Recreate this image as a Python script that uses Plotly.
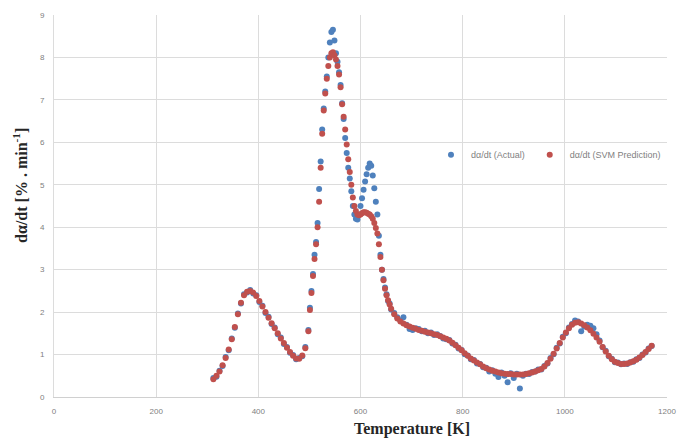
import plotly.graph_objects as go

temperature = [
    312, 318, 324, 330, 336, 342, 348, 354, 360, 366, 372, 378, 384, 390, 396, 402,
    408, 414, 420, 426, 432, 438, 444, 450, 456, 462, 468, 474, 480, 486, 492, 498,
    501, 504, 507, 510, 513, 516, 519, 522, 525, 528, 531, 534, 537, 540, 543, 546,
    549, 552, 555, 558, 561, 564, 567, 570, 573, 576, 579, 582, 585, 588, 591, 594,
    597, 600, 603, 606, 609, 612, 615, 618, 621, 624, 627, 630, 633, 636, 639, 642,
    645, 648, 651, 654, 657, 660,
    666, 672, 678, 684, 690, 696, 702, 708, 714, 720, 726, 732, 738, 744, 750, 756,
    762, 768, 774, 780, 786, 792, 798, 804, 810, 816, 822, 828, 834, 840, 846, 852,
    858, 864, 870, 876, 882, 888, 894, 900, 906, 912, 918, 924, 930, 936, 942, 948,
    954, 960, 966, 972, 978, 984, 990, 996, 1002, 1008, 1014, 1020, 1026, 1032, 1038,
    1044, 1050, 1056, 1062, 1068, 1074, 1080, 1086, 1092, 1098, 1104, 1110, 1116,
    1122, 1128, 1134, 1140, 1146, 1152, 1158, 1164, 1170,
]

rate_actual = [
    0.45, 0.48, 0.62, 0.73, 0.94, 1.10, 1.38, 1.63, 1.97, 2.20, 2.42, 2.46, 2.52, 2.44, 2.40, 2.24,
    2.15, 1.98, 1.89, 1.72, 1.64, 1.48, 1.40, 1.25, 1.18, 1.04, 0.99, 0.89, 0.92, 0.96, 1.18, 1.58,
    2.10, 2.50, 2.90, 3.35, 3.65, 4.10, 4.90, 5.55, 6.30, 6.80, 7.20, 7.55, 8.00, 8.35, 8.60, 8.65,
    8.40, 8.10, 7.90, 7.65, 7.35, 6.92, 6.55, 6.10, 5.75, 5.40, 5.15, 4.85, 4.50, 4.30, 4.20, 4.18,
    4.30, 4.50, 4.68, 4.88, 5.08, 5.25, 5.40, 5.50, 5.45, 5.22, 4.92, 4.60, 4.30, 3.80, 3.35, 3.00,
    2.78, 2.58, 2.42, 2.26, 2.20, 2.06,
    1.98, 1.88, 1.80, 1.88, 1.70, 1.60, 1.58, 1.62, 1.60, 1.55, 1.56, 1.50, 1.52, 1.46, 1.48, 1.44,
    1.38, 1.36, 1.34, 1.26, 1.23, 1.14, 1.11, 1.01, 0.98, 0.89, 0.87, 0.79, 0.78, 0.70, 0.69, 0.60,
    0.63, 0.55, 0.47, 0.58, 0.50, 0.35, 0.56, 0.45, 0.55, 0.20, 0.50, 0.55, 0.54, 0.59, 0.60, 0.65,
    0.65, 0.73, 0.79, 0.92, 1.01, 1.16, 1.26, 1.42, 1.50, 1.64, 1.72, 1.80, 1.78, 1.55, 1.66,
    1.70, 1.68, 1.62, 1.48, 1.33, 1.17, 1.09, 0.96, 0.90, 0.82, 0.81, 0.77, 0.79,
    0.78, 0.82, 0.83, 0.89, 0.92, 1.00, 1.05, 1.14, 1.20,
]

rate_svm = [
    0.42, 0.50, 0.60, 0.75, 0.92, 1.12, 1.36, 1.65, 1.95, 2.22, 2.40, 2.48, 2.50, 2.46, 2.38, 2.26,
    2.13, 2.00, 1.87, 1.74, 1.62, 1.50, 1.38, 1.27, 1.16, 1.06, 0.97, 0.91, 0.90, 0.98, 1.15, 1.55,
    2.05, 2.45, 2.85, 3.25, 3.60, 4.00, 4.60, 5.40, 6.20, 6.75, 7.15, 7.50, 7.80, 8.00, 8.10, 8.12,
    8.05, 7.95, 7.80, 7.60, 7.30, 6.90, 6.60, 6.30, 5.95, 5.60, 5.30, 5.00, 4.70, 4.50, 4.38, 4.30,
    4.28, 4.30, 4.33, 4.35, 4.35, 4.34, 4.32, 4.30, 4.26, 4.20, 4.10, 3.98, 3.85, 3.60, 3.30, 3.00,
    2.75, 2.55, 2.40, 2.28, 2.18, 2.08,
    1.95, 1.85, 1.78, 1.73, 1.69, 1.66, 1.63, 1.61, 1.58, 1.56, 1.54, 1.52, 1.50, 1.48, 1.46, 1.43,
    1.40, 1.37, 1.33, 1.28, 1.22, 1.16, 1.10, 1.03, 0.97, 0.91, 0.86, 0.81, 0.77, 0.72, 0.68, 0.65,
    0.62, 0.60, 0.58, 0.56, 0.55, 0.54, 0.54, 0.53, 0.53, 0.53, 0.53, 0.54, 0.56, 0.58, 0.60, 0.63,
    0.66, 0.72, 0.80, 0.90, 1.02, 1.14, 1.27, 1.40, 1.52, 1.62, 1.70, 1.75, 1.76, 1.73, 1.69,
    1.64, 1.57, 1.49, 1.40, 1.30, 1.18, 1.07, 0.97, 0.89, 0.83, 0.80, 0.78, 0.78,
    0.79, 0.81, 0.84, 0.88, 0.93, 0.99, 1.06, 1.13, 1.21,
]

x_ticks = [0, 200, 400, 600, 800, 1000, 1200]
y_ticks = [0, 1, 2, 3, 4, 5, 6, 7, 8, 9]

BLUE = "#4F81BD"
RED = "#C0504D"

fig = go.Figure()
fig.add_trace(go.Scatter(
    x=temperature, y=rate_actual, mode="markers", name="dα/dt (Actual)",
    marker=dict(color=BLUE, size=6, line=dict(width=0)),
))
fig.add_trace(go.Scatter(
    x=temperature, y=rate_svm, mode="markers", name="dα/dt (SVM Prediction)",
    marker=dict(color=RED, size=6, line=dict(width=0)),
))

axis_font = dict(family="Liberation Sans, Arial, sans-serif", size=8, color="#808080")
fig.update_layout(
    width=677, height=440,
    margin=dict(l=54, r=10, t=15, b=43),
    paper_bgcolor="white", plot_bgcolor="white",
    showlegend=True,
    legend=dict(
        orientation="h", x=0.615, y=0.634, xanchor="left", yanchor="middle",
        font=dict(family="Liberation Sans, Arial, sans-serif", size=9, color="#7f7f7f"),
        bgcolor="rgba(0,0,0,0)", itemwidth=30,
    ),
    xaxis=dict(
        range=[0, 1200], tickvals=x_ticks, ticktext=[str(v) for v in x_ticks],
        showgrid=True, gridcolor="#dcdcdc", gridwidth=1, zeroline=False,
        showline=True, linecolor="#d0d0d0", ticks="", tickfont=axis_font,
        ticklabelstandoff=6, automargin=False,
    ),
    yaxis=dict(
        range=[0, 9], tickvals=y_ticks, ticktext=[str(v) for v in y_ticks],
        showgrid=True, gridcolor="#dcdcdc", gridwidth=1, zeroline=False,
        showline=True, linecolor="#dcdcdc", ticks="", tickfont=axis_font,
        ticklabelstandoff=7, automargin=False,
    ),
    annotations=[
        dict(text="<b>Temperature [K]</b>", xref="paper", yref="paper",
             x=0.584, y=-0.085, xanchor="center", yanchor="middle", showarrow=False,
             font=dict(family="Liberation Serif, Times New Roman, serif", size=16, color="#262626")),
        dict(text="<b>dα/dt [% . min<sup>-1</sup>]</b>", xref="paper", yref="paper",
             x=-0.036, y=0.555, xanchor="right", yanchor="middle", showarrow=False,
             textangle=-90,
             font=dict(family="Liberation Serif, Times New Roman, serif", size=16, color="#262626")),
    ],
)

fig.write_html("out.html", config={"displayModeBar": False},
               post_script="document.body.style.margin='0';")
